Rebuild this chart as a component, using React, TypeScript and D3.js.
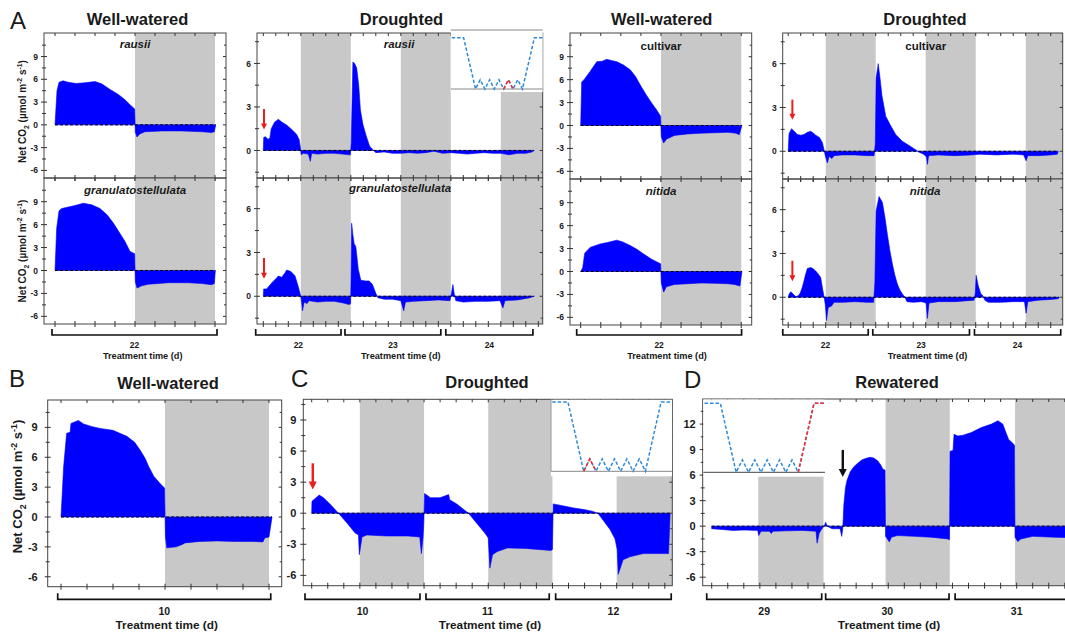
import React from 'react';
import * as d3 from 'd3';

type Pt = [number, number];

// ---------------- data (hours, net CO2) ----------------
const rausiiWW: Pt[] = [[0,0],[0.3,4.5],[0.6,5.6],[1.2,5.8],[2,5.6],[3.2,5.45],[4.5,5.55],[6,5.7],[7,5.4],[8.2,4.7],[9.5,4.0],[10.5,3.3],[11.3,2.6],[11.95,2.1],[12.05,-1.0],[12.3,-1.6],[12.7,-1.2],[13.5,-0.9],[16,-0.8],[19,-0.8],[22,-0.9],[23.5,-1.0],[23.9,-0.9],[24.1,0]];
const granWW: Pt[] = [[0,0],[0.25,5.5],[0.6,7.8],[1,8.1],[1.5,8.2],[3,8.5],[4.25,8.8],[5.5,8.6],[6.75,8.1],[7.8,7.3],[8.75,6.2],[9.7,4.9],[10.5,3.8],[11.25,2.5],[11.95,2.2],[12.05,-1.5],[12.3,-2.3],[13,-2.0],[14,-1.8],[17,-1.6],[20,-1.6],[22,-1.7],[23.5,-1.85],[23.9,-1.7],[24.05,0]];
const cultivarWW: Pt[] = [[0,0],[0.15,5.7],[0.5,6.0],[1.4,7.05],[2.4,8.35],[3.2,8.4],[3.9,8.65],[4.6,8.5],[5.4,8.35],[6.4,7.9],[7.4,7.3],[8.2,6.4],[8.9,5.3],[9.8,4.0],[10.6,2.95],[11.3,2.1],[11.95,1.2],[12.05,-1.5],[12.4,-2.3],[12.8,-1.8],[14,-1.3],[16,-1.1],[18,-1.0],[20,-0.95],[22,-0.9],[23.2,-1.0],[23.7,-1.2],[24.1,0]];
const nitidaWW: Pt[] = [[0,0],[0.3,0.5],[0.6,2.4],[1.4,3.15],[2.9,3.6],[4,3.8],[5.4,4.1],[6.2,3.9],[7.4,3.4],[8.4,2.9],[9.4,2.3],[10.6,1.6],[11.95,1.0],[12.05,-1.5],[12.4,-2.7],[12.8,-2.0],[14,-1.7],[16,-1.6],[18,-1.5],[20,-1.55],[22,-1.6],[23,-1.7],[23.8,-1.9],[24.1,0]];
const rausiiDr: Pt[] = [[0,0],[0.1,0.9],[0.5,0.95],[1.2,0.75],[1.6,0.9],[1.9,1.5],[2.7,1.95],[3.6,2.15],[4.5,1.95],[5.6,1.75],[6.4,1.55],[7.2,1.35],[8,1.1],[8.6,0.75],[8.9,0.2],[9.1,-0.3],[9.6,-0.2],[10.8,-0.25],[11.3,-0.75],[11.6,-0.2],[13,-0.25],[15,-0.2],[17,-0.2],[19,-0.25],[20.5,-0.3],[20.9,-0.3],[21.1,0.5],[21.5,6.1],[21.9,6.0],[22.4,5.7],[22.9,4.5],[23.3,2.8],[23.9,1.8],[24.7,1.0],[25.5,0.3],[26.3,0.05],[27,-0.15],[29,-0.1],[31,-0.2],[33,-0.2],[35,-0.15],[37,-0.2],[39,-0.15],[41,-0.05],[43,-0.2],[45,-0.15],[47,-0.2],[49,-0.25],[51,-0.2],[53,-0.15],[55,-0.2],[57,-0.2],[59,-0.3],[61,-0.2],[63,-0.2],[64.5,-0.1],[65,0]];
const granDr: Pt[] = [[0,0],[0.1,0.5],[0.8,0.5],[2,0.9],[3,1.2],[3.6,1.38],[4.4,1.3],[5.2,1.6],[5.6,1.8],[6.6,1.7],[7.6,1.4],[8.4,0.65],[8.9,0.1],[9.2,-0.4],[9.4,-1.0],[9.8,-0.4],[10.5,-0.5],[11,-0.3],[13,-0.4],[15,-0.35],[17,-0.35],[19,-0.45],[20.6,-0.57],[20.95,-0.5],[21.05,1.0],[21.2,5.0],[21.5,4.2],[21.8,3.6],[22.2,3.4],[22.8,1.85],[23.4,1.1],[24.5,1.05],[25.4,1.05],[26.2,0.8],[27,0.2],[27.5,-0.1],[29,-0.2],[31,-0.2],[33,-0.3],[33.7,-1.0],[34.1,-0.4],[36,-0.35],[39,-0.3],[42,-0.25],[44.8,-0.3],[45.2,0.3],[45.5,0.8],[45.8,0.2],[46.2,-0.3],[48,-0.4],[51,-0.35],[54,-0.35],[56.8,-0.3],[57.5,-0.8],[58,-0.3],[61,-0.25],[64,-0.1],[65,0]];
const cultivarDr: Pt[] = [[0,0],[0.2,1.2],[0.8,1.55],[1.5,1.35],[2.2,1.15],[3,1.1],[3.8,1.15],[4.6,1.3],[5.4,1.37],[6,1.25],[6.6,1.1],[7.5,0.95],[8.2,0.6],[8.6,0.1],[8.9,-0.3],[9.4,-0.8],[9.8,-0.35],[10.5,-0.5],[11,-0.3],[13,-0.25],[16,-0.25],[19,-0.3],[20.6,-0.3],[20.9,0.5],[21.1,5.0],[21.6,6.0],[22,5.1],[22.5,3.8],[23.4,2.4],[24.6,1.75],[25.8,1.15],[27.4,0.68],[29,0.4],[30.6,0.1],[31.3,-0.05],[32.5,-0.2],[33.2,-0.4],[33.4,-0.9],[33.7,-0.3],[36,-0.25],[40,-0.3],[44,-0.25],[46,-0.2],[50,-0.25],[54,-0.2],[56.5,-0.25],[57.1,-0.65],[57.5,-0.3],[60,-0.3],[63,-0.25],[64.6,-0.2],[64.8,0]];
const nitidaDr: Pt[] = [[0,0],[0.2,0.2],[0.6,0.38],[1.1,0.25],[1.8,0.05],[2.4,0.1],[2.9,0.3],[3.4,0.7],[3.8,1.13],[4.2,1.6],[4.6,1.97],[5.4,2.04],[6,1.95],[6.6,1.8],[7.2,1.6],[7.8,1.36],[8.3,0.5],[8.6,0.05],[8.9,-0.5],[9.2,-1.6],[9.6,-0.7],[10.4,-0.6],[11,-0.35],[13,-0.35],[16,-0.3],[19,-0.35],[20.5,-0.35],[20.8,1.0],[21.1,5.9],[21.8,6.9],[22.6,6.5],[23.2,5.5],[23.8,4.3],[24.4,3.2],[25,2.27],[25.6,1.5],[26.2,0.9],[26.8,0.5],[27.4,0.23],[28,0.0],[28.5,-0.3],[30,-0.35],[32,-0.3],[33.1,-0.4],[33.4,-1.45],[33.8,-0.4],[36,-0.3],[40,-0.3],[44.6,-0.2],[44.9,0.3],[45.1,1.5],[45.6,0.8],[46.2,0.25],[46.6,0.15],[47.2,-0.2],[48,-0.35],[51,-0.35],[54,-0.3],[56.7,-0.3],[57.1,-1.1],[57.5,-0.3],[60,-0.2],[63,-0.15],[64.8,-0.1],[65,0]];
const wellWateredB: Pt[] = [[0,0],[0.3,5],[0.65,8.4],[1.05,8.5],[1.15,9.4],[2,9.7],[2.6,9.35],[3.5,9.1],[4.5,8.9],[6,8.7],[7.6,8.1],[8.5,7.5],[9.1,6.75],[9.7,5.9],[10.1,5.1],[10.7,4.1],[11.4,3.4],[11.95,2.9],[12.05,-2.0],[12.2,-3.1],[13.3,-3.0],[14,-2.75],[14.3,-2.6],[16,-2.45],[18,-2.4],[20,-2.45],[22,-2.45],[23.3,-2.5],[23.5,-2.1],[24,-2.0],[24.35,0]];
const droughtedC: Pt[] = [[0,0],[0.05,1.15],[0.6,1.4],[1.4,1.75],[2.2,1.5],[3.4,0.9],[4.2,0.45],[5,0],[6.6,-0.95],[8.1,-1.9],[8.75,-2.1],[8.9,-4.0],[9.2,-3.0],[9.4,-2.3],[10.3,-2.1],[14,-2.2],[18,-2.2],[20.2,-2.3],[20.5,-3.9],[20.8,-2.4],[20.95,-1],[21.1,1.9],[22.2,1.5],[24,1.5],[25.6,1.8],[25.8,1.3],[27.1,0.9],[29.3,0],[30.9,-1.0],[32.5,-2.0],[33,-2.4],[33.3,-5.3],[33.8,-4.0],[34.7,-3.7],[36.6,-3.35],[40,-3.4],[44.7,-3.6],[45,-3.5],[45.15,0.9],[47.1,0.7],[49,0.5],[50.9,0.35],[52.4,0.2],[53.5,0],[55.8,-1.6],[56.7,-2.5],[57.1,-3.5],[57.3,-5.9],[58.2,-4.5],[59.5,-4.2],[62,-3.9],[66.7,-3.9],[67,0]];
const rewateredD: Pt[] = [[0,-0.3],[2,-0.4],[4,-0.5],[6,-0.45],[8.6,-0.5],[8.8,-1.1],[9.2,-0.6],[10.8,-0.6],[11.1,-0.85],[11.5,-0.6],[14,-0.55],[17,-0.5],[19.5,-0.6],[19.7,-2.0],[20.1,-0.8],[20.5,-0.4],[21.1,0.1],[21.3,0.45],[21.6,0.0],[22.5,-0.3],[24,-0.3],[24.3,-1.2],[24.5,-0.3],[24.7,2.5],[25.0,4.5],[25.3,5.4],[25.9,6.4],[26.6,7.0],[27.3,7.4],[28.1,7.8],[29,8.0],[29.7,8.1],[30.3,8.0],[31,7.7],[31.6,7.2],[32,6.7],[32.4,6.6],[32.5,-1.2],[33.2,-1.85],[33.6,-1.3],[34.7,-1.1],[37.9,-1.2],[41,-1.3],[44.1,-1.5],[44.45,-1.6],[44.55,8.8],[45.1,8.9],[45.3,10.8],[46,10.6],[47,10.7],[48.5,11.0],[50.4,11.6],[52.3,12.0],[53.5,12.4],[54.4,12.0],[55,11.0],[55.5,10.2],[56.2,9.8],[56.6,9.5],[56.7,-1.3],[57.2,-1.8],[57.8,-1.5],[60,-1.2],[64,-1.3],[67,-1.35]];

// tick values
const wwMajor = [-6, -3, 0, 3, 6, 9];
const wwMinor = [-4.5, -1.5, 1.5, 4.5, 7.5, 10.5];
const drMajor = [0, 3, 6];
const drMinor = [-1.5, 1.5, 4.5, 7.5];
const rwMajor = [-6, -3, 0, 3, 6, 9, 12];
const rwMinor = [-4.5, -1.5, 1.5, 4.5, 7.5, 10.5, 13.5];

// dark periods (hours)
const darkOneDay: Pt[] = [[12, 24]];
const darkThreeDays: Pt[] = [[9, 21], [33, 45], [57, 200]];
const darkRewatered: Pt[] = [[8.7, 20.9], [32.5, 44.5], [56.7, 200]];

// day brackets: [start h, end h, label]
const bracketsA1: [number, number, string][] = [[-0.45, 24.3, '22']];
const bracketsA2: [number, number, string][] = [[-1.82, 18.65, '22'], [19.6, 42.6, '23'], [43.8, 64.7, '24']];
const bracketsA3: [number, number, string][] = [[-0.6, 24.05, '22']];
const bracketsA4: [number, number, string][] = [[-1.3, 19.2, '22'], [20.3, 43.5, '23'], [44.7, 65.4, '24']];
const bracketsB: [number, number, string][] = [[-0.38, 24.2, '10']];
const bracketsC: [number, number, string][] = [[-1.25, 20.24, '10'], [21.36, 44.4, '11'], [45.6, 67.2, '12']];
const bracketsD: [number, number, string][] = [[-0.93, 20.56, '29'], [21.3, 44.36, '30'], [45.5, 68.5, '31']];

// schematic watering regime (u 0..100, level 0..1)
const schematic: Pt[] = [[1,1],[14,1],[27,0],[32.1,0.18],[37.2,0],[42.3,0.18],[47.4,0],[52.5,0.18],[57.6,0],[62.7,0.18],[67.8,0],[72.9,0.18],[78,0],[91,1],[100,1]];

// arrows: [t, from value, to value]
const arrowA2t: [number, number, number] = [0.17, 2.86, 1.45];
const arrowA2b: [number, number, number] = [0.17, 2.62, 1.2];
const arrowA4t: [number, number, number] = [1.0, 3.54, 2.16];
const arrowA4b: [number, number, number] = [1.0, 2.5, 1.1];
const arrowC: [number, number, number] = [0.2, 4.82, 2.3];
const arrowD: [number, number, number] = [24.5, 8.96, 5.78];

const FONT = '"Liberation Sans", Arial, Helvetica, sans-serif';
const GRAY = '#c8c8c8';
const BLUE = '#0000ff';
const INK = '#1a1a1a';

type Panel = {
  frame: [number, number, number, number];
  t0: number; pph: number;
  yDomain: [number, number];
  major: number[]; minor: number[];
  bands: Pt[];
  series: Pt[];
  label?: string; italic?: boolean; labelPos?: [number, number];
  tickFs: number; labelGap: number;
  arrow?: [number, number, number]; arrowColor?: string; arrowSize?: number;
};

const panels: Panel[] = [
  { frame: [44, 226, 33, 178], t0: 55, pph: 6.667, yDomain: [-7, 12.1], major: wwMajor, minor: wwMinor, bands: darkOneDay, series: rausiiWW, label: 'rausii', italic: true, labelPos: [135, 48], tickFs: 8.5, labelGap: 6 },
  { frame: [44, 226, 178, 324], t0: 55, pph: 6.667, yDomain: [-7, 12.1], major: wwMajor, minor: wwMinor, bands: darkOneDay, series: granWW, label: 'granulatostellulata', italic: true, labelPos: [135, 194], tickFs: 8.5, labelGap: 6 },
  { frame: [257, 542.7, 33, 178], t0: 263.3, pph: 4.167, yDomain: [-1.9, 8.1], major: drMajor, minor: drMinor, bands: darkThreeDays, series: rausiiDr, label: 'rausii', italic: true, labelPos: [399, 48.3], tickFs: 8.5, labelGap: 6, arrow: arrowA2t, arrowColor: '#ee1c1c', arrowSize: 6 },
  { frame: [257, 542.7, 178, 324], t0: 263.3, pph: 4.167, yDomain: [-1.9, 8.1], major: drMajor, minor: drMinor, bands: darkThreeDays, series: granDr, label: 'granulatostellulata', italic: true, labelPos: [400, 192], tickFs: 8.5, labelGap: 6, arrow: arrowA2b, arrowColor: '#ee1c1c', arrowSize: 6 },
  { frame: [570, 751.7, 33, 179], t0: 580.7, pph: 6.69, yDomain: [-7, 12.1], major: wwMajor, minor: wwMinor, bands: darkOneDay, series: cultivarWW, label: 'cultivar', italic: false, labelPos: [661, 50], tickFs: 8.5, labelGap: 6 },
  { frame: [570, 751.7, 179, 325], t0: 580.7, pph: 6.69, yDomain: [-7, 12.1], major: wwMajor, minor: wwMinor, bands: darkOneDay, series: nitidaWW, label: 'nitida', italic: true, labelPos: [661, 195], tickFs: 8.5, labelGap: 6 },
  { frame: [782.7, 1062.7, 33, 179], t0: 788.2, pph: 4.167, yDomain: [-1.9, 8.1], major: drMajor, minor: drMinor, bands: darkThreeDays, series: cultivarDr, label: 'cultivar', italic: false, labelPos: [925.7, 50], tickFs: 8.5, labelGap: 6, arrow: arrowA4t, arrowColor: '#ee1c1c', arrowSize: 6 },
  { frame: [782.7, 1062.7, 179, 325], t0: 788.2, pph: 4.167, yDomain: [-1.9, 8.1], major: drMajor, minor: drMinor, bands: darkThreeDays, series: nitidaDr, label: 'nitida', italic: true, labelPos: [925, 195], tickFs: 8.5, labelGap: 6, arrow: arrowA4b, arrowColor: '#ee1c1c', arrowSize: 6 },
  { frame: [47.7, 281.7, 400, 586.7], t0: 61, pph: 8.667, yDomain: [-7, 11.75], major: wwMajor, minor: wwMinor, bands: darkOneDay, series: wellWateredB, tickFs: 11, labelGap: 10 },
  { frame: [303.3, 672.3, 399.3, 585.7], t0: 311.7, pph: 5.35, yDomain: [-7, 11], major: wwMajor, minor: wwMinor, bands: darkThreeDays, series: droughtedC, tickFs: 11, labelGap: 7, arrow: arrowC, arrowColor: '#ee1c1c', arrowSize: 8 },
  { frame: [702.7, 1071.7, 399, 585.7], t0: 711.7, pph: 5.35, yDomain: [-7, 14.95], major: rwMajor, minor: rwMinor, bands: darkRewatered, series: rewateredD, tickFs: 11, labelGap: 7, arrow: arrowD, arrowColor: '#111', arrowSize: 8 },
];

function xScaleOf(p: Panel) {
  return d3.scaleLinear().domain([0, 24]).range([p.t0, p.t0 + 24 * p.pph]);
}
function yScaleOf(p: Panel) {
  return d3.scaleLinear().domain(p.yDomain).range([p.frame[3], p.frame[2]]);
}

function Arrow({ x, y1, y2, color, size }: { x: number; y1: number; y2: number; color: string; size: number }) {
  const h = size;
  return (
    <g>
      <line x1={x} x2={x} y1={y1} y2={y2 - h + 1} stroke={color} strokeWidth={size > 6 ? 2.4 : 2} />
      <polygon points={`${x - h / 2},${y2 - h} ${x + h / 2},${y2 - h} ${x},${y2}`} fill={color} />
    </g>
  );
}

function PanelView({ p }: { p: Panel }) {
  const x = xScaleOf(p);
  const y = yScaleOf(p);
  const [fx0, fx1, fy0, fy1] = p.frame;
  const area = d3.area<Pt>().x(d => x(d[0])).y0(y(0)).y1(d => y(d[1]));
  const tMax = x.invert(fx1);
  const xTicks = d3.range(0, Math.floor(tMax + 0.2) + 1, 3).filter(t => x(t) <= fx1 + 0.5);
  const tFirst = p.series[0][0];
  const tLast = p.series[p.series.length - 1][0];
  return (
    <g>
      {p.bands.map((b, i) => {
        const a = Math.max(x(b[0]), fx0);
        const e = Math.min(x(b[1]), fx1);
        return <rect key={i} x={a} y={fy0} width={e - a} height={fy1 - fy0} fill={GRAY} />;
      })}
      <path d={area(p.series) || ''} fill={BLUE} stroke={BLUE} strokeWidth={0.6} />
      <line x1={x(tFirst)} x2={x(tLast)} y1={y(0)} y2={y(0)} stroke="#000" strokeWidth={1} strokeDasharray="3,2" />
      <rect x={fx0} y={fy0} width={fx1 - fx0} height={fy1 - fy0} fill="none" stroke="#444" strokeWidth={1} />
      {xTicks.map(t => (
        <g key={t}>
          <line x1={x(t)} x2={x(t)} y1={fy1 - 3} y2={fy1 + 3} stroke="#333" strokeWidth={1} />
          <line x1={x(t)} x2={x(t)} y1={fy0} y2={fy0 + 3} stroke="#333" strokeWidth={1} />
        </g>
      ))}
      {p.major.map(v => (
        <g key={'M' + v}>
          <line x1={fx0 - 3} x2={fx0 + 3} y1={y(v)} y2={y(v)} stroke="#333" strokeWidth={1} />
          <line x1={fx1 - 3} x2={fx1} y1={y(v)} y2={y(v)} stroke="#333" strokeWidth={1} />
          <text x={fx0 - p.labelGap} y={y(v)} dy="0.36em" textAnchor="end" fontSize={p.tickFs} fontWeight="bold" fontFamily={FONT} fill={INK}>{v}</text>
        </g>
      ))}
      {p.minor.map(v => (
        <g key={'m' + v}>
          <line x1={fx0 - 2} x2={fx0 + 2} y1={y(v)} y2={y(v)} stroke="#333" strokeWidth={1} />
          <line x1={fx1 - 2} x2={fx1} y1={y(v)} y2={y(v)} stroke="#333" strokeWidth={1} />
        </g>
      ))}
      {p.label && p.labelPos && (
        <text x={p.labelPos[0]} y={p.labelPos[1]} textAnchor="middle" fontSize={11.5} fontWeight="bold" fontStyle={p.italic ? 'italic' : 'normal'} fontFamily={FONT} fill={INK}>{p.label}</text>
      )}
      {p.arrow && (
        <Arrow x={x(p.arrow[0])} y1={y(p.arrow[1])} y2={y(p.arrow[2])} color={p.arrowColor || 'red'} size={p.arrowSize || 6} />
      )}
    </g>
  );
}

function Brackets({ p, items, y, fs, titleX, titleY, titleFs, labelY }: { p: Panel; items: [number, number, string][]; y: number; fs: number; titleX: number; titleY: number; titleFs: number; labelY: number }) {
  const x = xScaleOf(p);
  return (
    <g>
      {items.map((b, i) => (
        <g key={i}>
          <path d={`M${x(b[0])},${y - 6} V${y} H${x(b[1])} V${y - 6}`} fill="none" stroke="#111" strokeWidth={1.7} />
          <text x={(x(b[0]) + x(b[1])) / 2} y={labelY} textAnchor="middle" fontSize={fs} fontWeight="bold" fontFamily={FONT} fill={INK}>{b[2]}</text>
        </g>
      ))}
      <text x={titleX} y={titleY} textAnchor="middle" fontSize={titleFs} fontWeight="bold" fontFamily={FONT} fill={INK}>Treatment time (d)</text>
    </g>
  );
}

function YTitle({ x, y, fs }: { x: number; y: number; fs: number }) {
  const s = fs * 0.68;
  return (
    <text transform={`translate(${x},${y}) rotate(-90)`} textAnchor="middle" fontSize={fs} fontWeight="bold" fontFamily={FONT} fill={INK}>
      Net CO<tspan fontSize={s} dy={fs * 0.3}>2</tspan>
      <tspan dy={-fs * 0.3}> (µmol m</tspan>
      <tspan fontSize={s} dy={-fs * 0.4}>-2</tspan>
      <tspan dy={fs * 0.4}> s</tspan>
      <tspan fontSize={s} dy={-fs * 0.4}>-1</tspan>
      <tspan dy={fs * 0.4}>)</tspan>
    </text>
  );
}

function Inset({ x0, x1, yTop, yBottom, boxTop, boxBottom, red, leftLine, lineColor }: { x0: number; x1: number; yTop: number; yBottom: number; boxTop: number; boxBottom: number; red: [number, number]; leftLine: boolean; lineColor: string }) {
  const xs = d3.scaleLinear().domain([0, 100]).range([x0, x1]);
  const ys = d3.scaleLinear().domain([0, 1]).range([yBottom, yTop]);
  const line = d3.line<Pt>().x(d => xs(d[0])).y(d => ys(d[1]));
  return (
    <g>
      <rect x={x0} y={boxTop} width={x1 - x0} height={boxBottom - boxTop} fill="#fff" />
      <line x1={x0} x2={x1} y1={yBottom} y2={yBottom} stroke={lineColor} strokeWidth={1} />
      {leftLine && <line x1={x0} x2={x0} y1={boxTop} y2={yBottom} stroke="#999" strokeWidth={1} />}
      <path d={line(schematic) || ''} fill="none" stroke="#2f8ad8" strokeWidth={1.5} strokeDasharray="3.5,2" />
      <path d={line(schematic.slice(red[0], red[1] + 1)) || ''} fill="none" stroke="#ff2a2a" strokeWidth={1.5} strokeDasharray="3.5,2" />
    </g>
  );
}

function Title({ x, y, text }: { x: number; y: number; text: string }) {
  return <text x={x} y={y} textAnchor="middle" fontSize={16.5} fontWeight="bold" fontFamily={FONT} fill={INK}>{text}</text>;
}
function Letter({ x, y, text }: { x: number; y: number; text: string }) {
  return <text x={x} y={y} fontSize={24} fontFamily={FONT} fill={INK}>{text}</text>;
}

export default function App() {
  return (
    <svg width={1065} height={632} viewBox="0 0 1065 632" style={{ position: 'absolute', left: 0, top: 0, background: '#fff' }}>
      <rect x={0} y={0} width={1065} height={632} fill="#fff" />
      {panels.map((p, i) => <PanelView key={i} p={p} />)}

      {/* insets */}
      <Inset x0={450.7} x1={542.7} yTop={37.7} yBottom={89} boxTop={29.5} boxBottom={92} red={[8, 10]} leftLine={false} lineColor="#888" />
      <line x1={450.7} x2={542.7} y1={30} y2={30} stroke="#888" strokeWidth={1} />
      <Inset x0={551} x1={672} yTop={402} yBottom={471.3} boxTop={399.8} boxBottom={476.3} red={[2, 4]} leftLine={true} lineColor="#888" />
      <Inset x0={703.3} x1={825} yTop={403.3} yBottom={472.3} boxTop={399.5} boxBottom={476.7} red={[12, 14]} leftLine={false} lineColor="#444" />

      {/* titles */}
      <Letter x={10} y={28.5} text="A" />
      <Title x={137.5} y={25} text="Well-watered" />
      <Title x={401.5} y={25} text="Droughted" />
      <Title x={661.7} y={25} text="Well-watered" />
      <Title x={925} y={25} text="Droughted" />
      <Letter x={9} y={387} text="B" />
      <Title x={168} y={389} text="Well-watered" />
      <Letter x={291} y={387} text="C" />
      <Title x={487} y={388} text="Droughted" />
      <Letter x={684} y={388} text="D" />
      <Title x={897} y={388} text="Rewatered" />

      {/* y titles */}
      <YTitle x={25.5} y={111.5} fs={10} />
      <YTitle x={25.5} y={251} fs={10} />
      <YTitle x={22} y={486.5} fs={13} />

      {/* brackets */}
      <Brackets p={panels[1]} items={bracketsA1} y={335} fs={8.5} labelY={347.5} titleX={142.7} titleY={359} titleFs={9.2} />
      <Brackets p={panels[3]} items={bracketsA2} y={335} fs={8.5} labelY={347.5} titleX={400.8} titleY={359} titleFs={9.2} />
      <Brackets p={panels[5]} items={bracketsA3} y={335} fs={8.5} labelY={347.5} titleX={667} titleY={359} titleFs={9.2} />
      <Brackets p={panels[7]} items={bracketsA4} y={335} fs={8.5} labelY={347.5} titleX={927.5} titleY={359} titleFs={9.2} />
      <Brackets p={panels[8]} items={bracketsB} y={599.3} fs={10.5} labelY={614.5} titleX={166.7} titleY={629} titleFs={11.8} />
      <Brackets p={panels[9]} items={bracketsC} y={599.3} fs={10.5} labelY={614.5} titleX={490} titleY={629} titleFs={11.8} />
      <Brackets p={panels[10]} items={bracketsD} y={599.3} fs={10.5} labelY={614.5} titleX={889} titleY={629} titleFs={11.8} />
    </svg>
  );
}
